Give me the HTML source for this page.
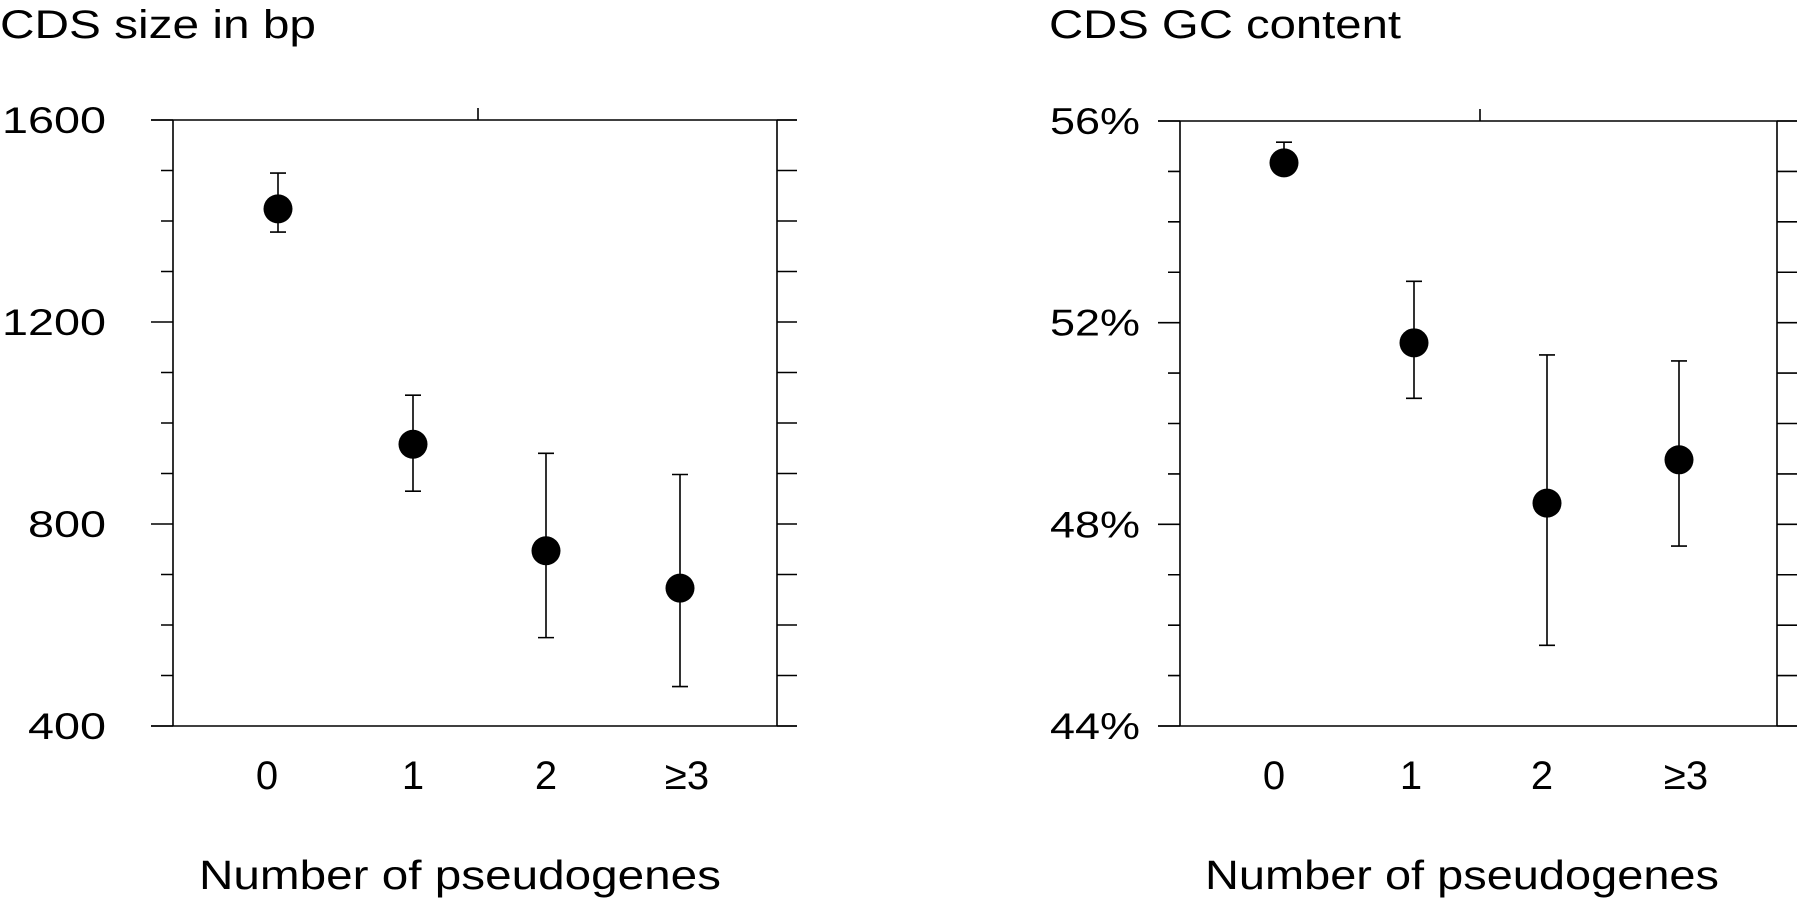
<!DOCTYPE html>
<html><head><meta charset="utf-8"><style>
html,body{margin:0;padding:0;background:#fff;}
svg{display:block;font-family:"Liberation Sans",Arial,sans-serif;}
</style></head><body>
<svg id="fig" width="1800" height="901" viewBox="0 0 1800 901">
<text x="0" y="38" font-size="40" textLength="316" lengthAdjust="spacingAndGlyphs">CDS size in bp</text>
<text x="1049" y="38" font-size="40" textLength="352" lengthAdjust="spacingAndGlyphs">CDS GC content</text>
<text x="199" y="889" font-size="41" textLength="522" lengthAdjust="spacingAndGlyphs">Number of pseudogenes</text>
<text x="1205" y="889" font-size="41" textLength="514" lengthAdjust="spacingAndGlyphs">Number of pseudogenes</text>
</svg>
<script>
const categories = ["0","1","2","≥3"];
const sizeMean = [1424, 958, 747, 673];
const sizeHigh = [1495, 1055, 940, 898];
const sizeLow = [1378, 865, 575, 478];
const sizeTicks = [400, 800, 1200, 1600];
const sizeTickLabels = ["400","800","1200","1600"];
const gcMean = [55.17, 51.6, 48.42, 49.28];
const gcHigh = [55.58, 52.82, 51.36, 51.24];
const gcLow = [54.95, 50.5, 45.6, 47.57];
const gcTicks = [44, 48, 52, 56];
const gcTickLabels = ["44%","48%","52%","56%"];

const NS = "http://www.w3.org/2000/svg";
const svg = document.getElementById('fig');
function mk(tag, attrs, parent){
  const e = document.createElementNS(NS, tag);
  for (const k in attrs) e.setAttribute(k, attrs[k]);
  (parent||svg).appendChild(e);
  return e;
}
function panel(cfg){
  const g = mk('g', {});
  
  
  const y = v => cfg.top + (cfg.max - v) / (cfg.max - cfg.min) * (cfg.bottom - cfg.top);
  const ln = {stroke:'#000','stroke-width':1.6};
  const fr = mk('path', Object.assign({d:`M${cfg.left-22},${cfg.top}H${cfg.right+20}M${cfg.left-22},${cfg.bottom}H${cfg.right+20}M${cfg.left},${cfg.top}V${cfg.bottom}M${cfg.right},${cfg.top}V${cfg.bottom}M${cfg.topTick},${cfg.top}V${cfg.top-12}`, fill:'none'}, ln), g);
  
  
  for (let v = cfg.min; v <= cfg.max + 1e-9; v += cfg.minorStep){
    const isMajor = cfg.ticks.some(t => Math.abs(t - v) < 1e-6);
    const yy = y(v);
    const t = mk('path', Object.assign({d:`M${cfg.left},${yy}H${cfg.left-(isMajor?22:12)}M${cfg.right},${yy}H${cfg.right+20}`}, ln), g);
    
    
  }
  cfg.ticks.forEach((v, i) => {
    const lab = cfg.tickLabels[i];
    const w = cfg.charW * lab.length + (lab.includes('%') ? 12 : 0);
    const t = mk('text', {x: cfg.labelX - w, y: y(v) + 13, 'font-size': 37, textLength: w, lengthAdjust: 'spacingAndGlyphs'}, g);
    t.textContent = lab;
    
    
  });
  categories.forEach((c, i) => {
    const x = cfg.xs[i];
    const t = mk('text', {x: cfg.lx[i], y: 789, 'font-size': 40, 'text-anchor': 'middle'}, g);
    t.textContent = c;
    
    
    const eb = mk('path', Object.assign({d:`M${x},${y(cfg.high[i])}V${y(cfg.low[i])}M${x-8},${y(cfg.high[i])}H${x+8}M${x-8},${y(cfg.low[i])}H${x+8}`, fill:'none'}, ln), g);
    
    
    const d = mk('circle', {cx: x, cy: y(cfg.mean[i]), r: 14.5, fill: '#000'}, g);
    
    
  });
}
panel({name:'cds-size-panel', left:173, right:777, top:120, bottom:726, min:400, max:1600, minorStep:100,
  ticks:sizeTicks, tickLabels:sizeTickLabels, labelX:106, charW:26, topTick:478,
  xs:[278,413,546,680], lx:[267,413,546,687], mean:sizeMean, high:sizeHigh, low:sizeLow});
panel({name:'cds-gc-panel', left:1180, right:1777, top:121, bottom:726, min:44, max:56, minorStep:1,
  ticks:gcTicks, tickLabels:gcTickLabels, labelX:1140, charW:26, topTick:1480,
  xs:[1284,1414,1547,1679], lx:[1274,1411,1542,1686], mean:gcMean, high:gcHigh, low:gcLow});
</script>
</body></html>
